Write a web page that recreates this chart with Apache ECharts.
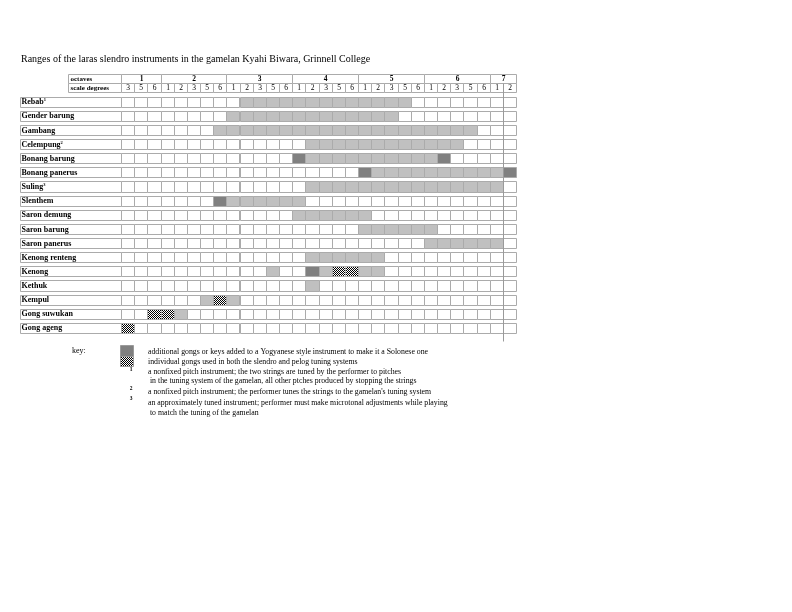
<!DOCTYPE html>
<html><head><meta charset="utf-8">
<script src="https://cdn.jsdelivr.net/npm/echarts@6/dist/echarts.min.js"></script>
<style>html,body{margin:0;padding:0;background:#fff}#c{width:792px;height:612px}</style>
</head><body><div id="c"></div>
<script>
// ---------------- data ----------------
const titleText = 'Ranges of the laras slendro instruments in the gamelan Kyahi Biwara, Grinnell College';
const instruments = ['Rebab','Gender barung','Gambang','Celempung','Bonang barung','Bonang panerus','Suling',
  'Slenthem','Saron demung','Saron barung','Saron panerus','Kenong renteng','Kenong','Kethuk','Kempul',
  'Gong suwukan','Gong ageng'];
const footnotes = ['1','','','2','','','3','','','','','','','','','',''];
const scaleDegrees = ['3','5','6','1','2','3','5','6','1','2','3','5','6','1','2','3','5','6',
  '1','2','3','5','6','1','2','3','5','6','1','2'];
const columnOctaves = ['1','1','1','2','2','2','2','2','3','3','3','3','3','4','4','4','4','4',
  '5','5','5','5','5','6','6','6','6','6','7','7'];
// light grey ranges [firstColumn, lastColumn] per instrument
const lightSpans = [
  [[9,21]], [[8,20]], [[7,26]], [[14,25]], [[14,23]], [[19,28]], [[14,28]], [[8,13]],
  [[13,18]], [[18,23]], [[23,28]], [[14,19]], [[11,11],[15,15],[18,19]], [[14,14]],
  [[6,6],[8,8]], [[4,4]], []
];
// additional gongs/keys (dark grey)
const darkCells = [[],[],[],[],[13,24],[18,29],[],[7],[],[],[],[],[14],[],[],[],[]];
// gongs used in both tuning systems (checkered)
const checkerCells = [[],[],[],[],[],[],[],[],[],[],[],[],[16,17],[],[7],[2,3],[0]];
const keyLines = [
  'additional gongs or keys added to a Yogyanese style instrument to make it a Solonese one',
  'individual gongs used in both the slendro and pelog tuning systems',
  'a nonfixed pitch instrument; the two strings are tuned by the performer to pitches',
  ' in the tuning system of the gamelan, all other ptches produced by stopping the strings',
  'a nonfixed pitch instrument; the performer tunes the strings to the gamelan\'s tuning system',
  'an approximately tuned instrument; performer must make microtonal adjustments while playing',
  ' to match the tuning of the gamelan'
];
const keyMarks = ['', '', '1', '', '2', '3', ''];

// ---------------- build ----------------
const FONT = '"Liberation Serif","Times New Roman",serif';
const LINE = '#ababab';
const pc = document.createElement('canvas');
pc.width = 2; pc.height = 2;
const pctx = pc.getContext('2d');
pctx.fillStyle = '#ffffff'; pctx.fillRect(0, 0, 2, 2);
pctx.fillStyle = '#000000'; pctx.fillRect(0, 0, 1, 1); pctx.fillRect(1, 1, 1, 1);
const checker = { image: pc, repeat: 'repeat' };
const fills = ['#ffffff', '#c0c0c0', '#808080', checker];

const bodyData = [];
instruments.forEach((name, r) => {
  for (let c = 0; c < scaleDegrees.length; c++) {
    let kind = 0;
    lightSpans[r].forEach(s => { if (c >= s[0] && c <= s[1]) kind = 1; });
    if (darkCells[r].indexOf(c) >= 0) kind = 2;
    if (checkerCells[r].indexOf(c) >= 0) kind = 3;
    bodyData.push([c, r, kind]);
  }
});

function px(v) { return Math.round(v) + 0.5; }
function cellH(api) { return api.size([0, 1])[1] * 0.71; }

const chart = echarts.init(document.getElementById('c'), null, { renderer: 'canvas' });

const keyGraphics = [
  { type: 'text', left: 72, top: 347, style: { text: 'key:', font: '8px ' + FONT, fill: '#000' } },
  { type: 'rect', shape: { x: 120.5, y: 345.5, width: 13, height: 11 }, style: { fill: '#808080', stroke: '#9a9a9a', lineWidth: 1 } },
  { type: 'rect', shape: { x: 120.5, y: 356.5, width: 13, height: 10 }, style: { fill: checker, stroke: '#9a9a9a', lineWidth: 1 } }
];
const keyY = [352, 362, 371.5, 381, 392, 402.5, 412.5];
const markY = [0, 0, 370, 0, 389, 398.5, 0];
keyLines.forEach((t, i) => {
  keyGraphics.push({ type: 'text', x: 148, y: keyY[i], style: { text: t, font: '7.8px ' + FONT, fill: '#000', verticalAlign: 'middle' } });
  if (keyMarks[i]) keyGraphics.push({ type: 'text', x: 131, y: markY[i], z: 10, style: { text: keyMarks[i], font: 'bold 5.5px ' + FONT, fill: '#000', verticalAlign: 'middle', align: 'center' } });
});

chart.setOption({
  animation: false,
  backgroundColor: '#ffffff',
  title: { text: titleText, left: 16, top: 49, textStyle: { fontFamily: FONT, fontSize: 10, fontWeight: 'normal', color: '#000' } },
  grid: { left: 121, top: 94.6, width: 395, height: 240.4 },
  xAxis: { type: 'value', min: 0, max: scaleDegrees.length, show: false },
  yAxis: { type: 'category', data: instruments, inverse: true, show: false },
  graphic: keyGraphics,
  series: [
    {
      type: 'custom', name: 'cells', data: bodyData, encode: { x: 0, y: 1 },
      renderItem(params, api) {
        const c = api.value(0), r = api.value(1), kind = api.value(2);
        const p = api.coord([c, r]);
        const w = api.size([1, 0])[0];
        const h = cellH(api);
        const x0 = px(p[0]), x1 = px(p[0] + w), y0 = px(p[1] - h / 2), y1 = px(p[1] + h / 2);
        return { type: 'rect', shape: { x: x0, y: y0, width: x1 - x0, height: y1 - y0 },
          style: { fill: fills[kind], stroke: LINE, lineWidth: 1 } };
      }
    },
    {
      type: 'custom', name: 'labels', data: instruments.map((n, r) => [0, r]), encode: { x: 0, y: 1 },
      renderItem(params, api) {
        const r = api.value(1);
        const p = api.coord([0, r]);
        const h = cellH(api);
        const left = px(params.coordSys.x - 101), right = px(params.coordSys.x);
        const y0 = px(p[1] - h / 2), y1 = px(p[1] + h / 2);
        const txt = footnotes[r] ? '{n|' + instruments[r] + '}{s|' + footnotes[r] + '}' : '{n|' + instruments[r] + '}';
        return { type: 'group', children: [
          { type: 'rect', shape: { x: left, y: y0, width: right - left, height: y1 - y0 }, style: { fill: '#fff', stroke: LINE, lineWidth: 1 } },
          { type: 'text', x: left + 1, y: p[1] + 0.5, style: { text: txt, verticalAlign: 'middle', fill: '#000',
            rich: { n: { fontFamily: FONT, fontSize: 8, fontWeight: 'bold', lineHeight: 9 },
                    s: { fontFamily: FONT, fontSize: 4.5, fontWeight: 'bold', verticalAlign: 'top', lineHeight: 9 } } } }
        ] };
      }
    },
    {
      type: 'custom', name: 'header', data: scaleDegrees.map((d, c) => [c, 0]), encode: { x: 0, y: 1 },
      renderItem(params, api) {
        const c = api.value(0);
        const cs = params.coordSys;
        const octTop = px(cs.y - 20.6), degTop = px(cs.y - 11.6), degBot = px(cs.y - 2.6);
        const x0 = px(api.coord([c, 0])[0]), x1 = px(api.coord([c + 1, 0])[0]);
        const children = [
          { type: 'rect', shape: { x: x0, y: degTop, width: x1 - x0, height: degBot - degTop }, style: { fill: '#fff', stroke: LINE, lineWidth: 1 } },
          { type: 'text', x: (x0 + x1) / 2, y: (degTop + degBot) / 2 + 0.5, style: { text: scaleDegrees[c], font: '7.5px ' + FONT, fill: '#000', align: 'center', verticalAlign: 'middle' } }
        ];
        if (c === 0 || columnOctaves[c] !== columnOctaves[c - 1]) {
          let e = c;
          while (e + 1 < columnOctaves.length && columnOctaves[e + 1] === columnOctaves[c]) e++;
          const ox1 = px(api.coord([e + 1, 0])[0]);
          children.push(
            { type: 'rect', shape: { x: x0, y: octTop, width: ox1 - x0, height: degTop - octTop }, style: { fill: '#fff', stroke: LINE, lineWidth: 1 } },
            { type: 'text', x: (x0 + ox1) / 2, y: (octTop + degTop) / 2 + 0.5, style: { text: columnOctaves[c], font: 'bold 7.5px ' + FONT, fill: '#000', align: 'center', verticalAlign: 'middle' } }
          );
        }
        if (c === 0) {
          const hl = px(cs.x - 53);
          children.push(
            { type: 'rect', shape: { x: hl, y: octTop, width: x0 - hl, height: degTop - octTop }, style: { fill: '#fff', stroke: LINE, lineWidth: 1 } },
            { type: 'rect', shape: { x: hl, y: degTop, width: x0 - hl, height: degBot - degTop }, style: { fill: '#fff', stroke: LINE, lineWidth: 1 } },
            { type: 'text', x: hl + 2, y: (octTop + degTop) / 2 + 0.5, style: { text: 'octaves', font: 'bold 7px ' + FONT, fill: '#000', verticalAlign: 'middle' } },
            { type: 'text', x: hl + 2, y: (degTop + degBot) / 2 + 0.5, style: { text: 'scale degrees', font: 'bold 7px ' + FONT, fill: '#000', verticalAlign: 'middle' } }
          );
        }
        if (c === scaleDegrees.length - 1) {
          children.push({ type: 'line', shape: { x1: x0, y1: degTop, x2: x0, y2: px(cs.y + cs.height + 6) }, style: { stroke: '#9a9a9a', lineWidth: 1 }, z2: 10 });
        }
        return { type: 'group', children };
      }
    }
  ]
});
</script></body></html>
